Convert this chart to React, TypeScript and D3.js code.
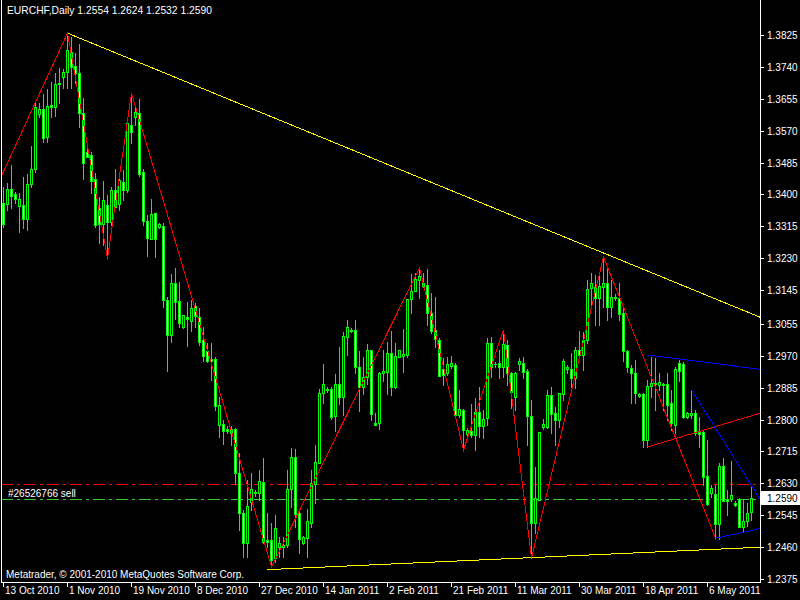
import React from 'react';
import * as d3 from 'd3';

// EURCHF daily bars, 13 Oct 2010 .. 13 May 2011 (one bar per trading session)
const barOpen = [
  1.3377, 1.3374, 1.3414, 1.3401, 1.3369, 1.3372, 1.3334, 1.3428, 1.3468, 1.3614,
  1.3628, 1.3553, 1.3638, 1.3633, 1.3694, 1.3713, 1.3726, 1.3779, 1.3742, 1.3724,
  1.3617, 1.3513, 1.3505, 1.3441, 1.3364, 1.3321, 1.3372, 1.3326, 1.3412, 1.3374,
  1.3433, 1.3412, 1.3585, 1.3606, 1.3617, 1.3460, 1.3329, 1.3281, 1.3350, 1.3313,
  1.3316, 1.3119, 1.3025, 1.3164, 1.3116, 1.3047, 1.3073, 1.3063, 1.3103, 1.3073,
  1.3012, 1.2983, 1.2961, 1.2961, 1.2785, 1.2788, 1.2775, 1.2775, 1.2775, 1.2658,
  1.2551, 1.2471, 1.2580, 1.2607, 1.2604, 1.2634, 1.2479, 1.2479, 1.2431, 1.2460,
  1.2460, 1.2466, 1.2615, 1.2700, 1.2551, 1.2471, 1.2484, 1.2524, 1.2628, 1.2684,
  1.2871, 1.2879, 1.2881, 1.2809, 1.2895, 1.2860, 1.3020, 1.3036, 1.3039, 1.2940,
  1.2887, 1.2913, 1.2985, 1.2791, 1.2791, 1.2924, 1.2927, 1.2977, 1.2887, 1.2967,
  1.2969, 1.2972, 1.3121, 1.3143, 1.3172, 1.3164, 1.3159, 1.3084, 1.3039, 1.3012,
  1.2935, 1.2924, 1.2943, 1.2945, 1.2812, 1.2825, 1.2761, 1.2769, 1.2759, 1.2820,
  1.2783, 1.2804, 1.3004, 1.2948, 1.2951, 1.2940, 1.2999, 1.2924, 1.2860, 1.2948,
  1.2951, 1.2929, 1.2809, 1.2524, 1.2586, 1.2780, 1.2780, 1.2865, 1.2817, 1.2799,
  1.2868, 1.2935, 1.2935, 1.2911, 1.2985, 1.2972, 1.3012, 1.3151, 1.3153, 1.3124,
  1.3153, 1.3164, 1.3100, 1.3124, 1.3124, 1.3084, 1.2983, 1.2937, 1.2924, 1.2863,
  1.2868, 1.2745, 1.2889, 1.2897, 1.2892, 1.2895, 1.2895, 1.2844, 1.2785, 1.2951,
  1.2948, 1.2807, 1.2812, 1.2817, 1.2767, 1.2767, 1.2650, 1.2604, 1.2602, 1.2522,
  1.2676, 1.2588, 1.2588, 1.2578, 1.2588, 1.2514, 1.2530, 1.2554,
];

const barHigh = [
  1.3420, 1.3430, 1.3478, 1.3406, 1.3404, 1.3446, 1.3454, 1.3529, 1.3644, 1.3644,
  1.3668, 1.3681, 1.3700, 1.3724, 1.3737, 1.3734, 1.3830, 1.3819, 1.3777, 1.3801,
  1.3657, 1.3524, 1.3513, 1.3457, 1.3393, 1.3436, 1.3398, 1.3420, 1.3468, 1.3441,
  1.3465, 1.3590, 1.3670, 1.3630, 1.3654, 1.3468, 1.3345, 1.3388, 1.3350, 1.3324,
  1.3324, 1.3127, 1.3188, 1.3204, 1.3167, 1.3079, 1.3113, 1.3119, 1.3111, 1.3097,
  1.3047, 1.3004, 1.3004, 1.2967, 1.2860, 1.2799, 1.2783, 1.2783, 1.2777, 1.2711,
  1.2559, 1.2639, 1.2658, 1.2612, 1.2665, 1.2697, 1.2551, 1.2524, 1.2546, 1.2487,
  1.2487, 1.2665, 1.2724, 1.2721, 1.2559, 1.2490, 1.2562, 1.2665, 1.2732, 1.2881,
  1.2948, 1.2887, 1.2887, 1.2921, 1.2993, 1.3033, 1.3065, 1.3044, 1.3065, 1.2983,
  1.2967, 1.3001, 1.2985, 1.2817, 1.2927, 1.2985, 1.3007, 1.3036, 1.3004, 1.2985,
  1.3041, 1.3121, 1.3188, 1.3191, 1.3204, 1.3191, 1.3201, 1.3137, 1.3127, 1.3017,
  1.2964, 1.2967, 1.2969, 1.2951, 1.2879, 1.2828, 1.2777, 1.2841, 1.2857, 1.2887,
  1.2825, 1.3017, 1.3020, 1.2953, 1.2985, 1.3039, 1.3012, 1.2927, 1.2927, 1.2964,
  1.2967, 1.2935, 1.2852, 1.2673, 1.2767, 1.2801, 1.2879, 1.2887, 1.2833, 1.2871,
  1.2961, 1.2945, 1.2977, 1.2993, 1.3036, 1.3033, 1.3172, 1.3191, 1.3185, 1.3191,
  1.3233, 1.3204, 1.3172, 1.3135, 1.3164, 1.3097, 1.2985, 1.2945, 1.2959, 1.2871,
  1.2871, 1.2905, 1.2967, 1.2964, 1.2924, 1.2897, 1.2924, 1.2879, 1.2940, 1.2959,
  1.2953, 1.2820, 1.2879, 1.2825, 1.2807, 1.2772, 1.2745, 1.2626, 1.2626, 1.2684,
  1.2697, 1.2612, 1.2689, 1.2583, 1.2591, 1.2588, 1.2578, 1.2624,
];

const barLow = [
  1.3313, 1.3358, 1.3364, 1.3377, 1.3300, 1.3310, 1.3305, 1.3420, 1.3460, 1.3606,
  1.3540, 1.3540, 1.3606, 1.3609, 1.3644, 1.3684, 1.3684, 1.3684, 1.3697, 1.3580,
  1.3441, 1.3500, 1.3404, 1.3313, 1.3270, 1.3265, 1.3230, 1.3318, 1.3366, 1.3358,
  1.3385, 1.3406, 1.3537, 1.3585, 1.3449, 1.3318, 1.3236, 1.3281, 1.3233, 1.3310,
  1.3100, 1.2929, 1.3007, 1.3068, 1.3047, 1.3044, 1.2996, 1.3036, 1.3047, 1.2999,
  1.2956, 1.2953, 1.2905, 1.2825, 1.2753, 1.2735, 1.2764, 1.2732, 1.2628, 1.2506,
  1.2434, 1.2434, 1.2559, 1.2596, 1.2586, 1.2471, 1.2460, 1.2407, 1.2420, 1.2434,
  1.2434, 1.2460, 1.2567, 1.2514, 1.2444, 1.2468, 1.2434, 1.2514, 1.2578, 1.2684,
  1.2844, 1.2873, 1.2801, 1.2769, 1.2841, 1.2812, 1.2972, 1.3033, 1.2924, 1.2823,
  1.2868, 1.2895, 1.2799, 1.2785, 1.2775, 1.2903, 1.2868, 1.2865, 1.2884, 1.2967,
  1.2927, 1.2967, 1.3084, 1.3143, 1.3124, 1.3153, 1.3052, 1.3031, 1.2993, 1.2916,
  1.2892, 1.2919, 1.2937, 1.2807, 1.2807, 1.2719, 1.2751, 1.2753, 1.2719, 1.2753,
  1.2751, 1.2785, 1.2913, 1.2940, 1.2911, 1.2913, 1.2892, 1.2831, 1.2825, 1.2932,
  1.2911, 1.2732, 1.2431, 1.2498, 1.2586, 1.2775, 1.2777, 1.2764, 1.2732, 1.2780,
  1.2852, 1.2924, 1.2887, 1.2884, 1.2967, 1.2932, 1.3004, 1.3100, 1.3052, 1.3052,
  1.3100, 1.3065, 1.3073, 1.3119, 1.3065, 1.2956, 1.2927, 1.2844, 1.2844, 1.2860,
  1.2727, 1.2727, 1.2860, 1.2825, 1.2879, 1.2825, 1.2799, 1.2772, 1.2764, 1.2903,
  1.2804, 1.2804, 1.2804, 1.2759, 1.2727, 1.2626, 1.2572, 1.2594, 1.2484, 1.2482,
  1.2583, 1.2546, 1.2583, 1.2570, 1.2514, 1.2500, 1.2516, 1.2532,
];

const barClose = [
  1.3321, 1.3414, 1.3396, 1.3388, 1.3388, 1.3334, 1.3428, 1.3468, 1.3633, 1.3628,
  1.3550, 1.3636, 1.3633, 1.3694, 1.3697, 1.3726, 1.3785, 1.3739, 1.3724, 1.3617,
  1.3484, 1.3500, 1.3436, 1.3318, 1.3321, 1.3385, 1.3326, 1.3412, 1.3366, 1.3438,
  1.3412, 1.3590, 1.3566, 1.3620, 1.3454, 1.3329, 1.3284, 1.3348, 1.3281, 1.3321,
  1.3119, 1.3025, 1.3164, 1.3113, 1.3057, 1.3079, 1.3068, 1.3097, 1.3076, 1.3007,
  1.2969, 1.2956, 1.2956, 1.2836, 1.2839, 1.2769, 1.2769, 1.2764, 1.2658, 1.2551,
  1.2471, 1.2570, 1.2615, 1.2604, 1.2636, 1.2474, 1.2474, 1.2426, 1.2511, 1.2471,
  1.2466, 1.2615, 1.2700, 1.2548, 1.2482, 1.2487, 1.2530, 1.2631, 1.2687, 1.2871,
  1.2895, 1.2881, 1.2807, 1.2895, 1.2860, 1.3023, 1.3047, 1.3039, 1.2940, 1.2887,
  1.2913, 1.2985, 1.2815, 1.2785, 1.2924, 1.2929, 1.2977, 1.2887, 1.2969, 1.2985,
  1.2975, 1.3121, 1.3143, 1.3175, 1.3183, 1.3156, 1.3084, 1.3036, 1.3015, 1.2916,
  1.2919, 1.2948, 1.2951, 1.2812, 1.2828, 1.2772, 1.2772, 1.2759, 1.2820, 1.2783,
  1.2801, 1.3004, 1.2940, 1.2948, 1.2940, 1.3001, 1.2924, 1.2873, 1.2924, 1.2956,
  1.2927, 1.2809, 1.2524, 1.2591, 1.2767, 1.2788, 1.2865, 1.2815, 1.2799, 1.2871,
  1.2956, 1.2940, 1.2911, 1.2985, 1.2972, 1.3012, 1.3148, 1.3164, 1.3124, 1.3156,
  1.3164, 1.3100, 1.3127, 1.3127, 1.3081, 1.2983, 1.2940, 1.2924, 1.2871, 1.2868,
  1.2745, 1.2889, 1.2897, 1.2895, 1.2900, 1.2892, 1.2839, 1.2791, 1.2935, 1.2929,
  1.2807, 1.2817, 1.2817, 1.2764, 1.2761, 1.2647, 1.2575, 1.2618, 1.2522, 1.2676,
  1.2583, 1.2583, 1.2599, 1.2572, 1.2514, 1.2530, 1.2551, 1.2590,
];

// time axis: one label every 16 bars
const dateLabels = [
  '13 Oct 2010', '1 Nov 2010', '19 Nov 2010', '8 Dec 2010', '27 Dec 2010', '14 Jan 2011',
  '2 Feb 2011', '21 Feb 2011', '11 Mar 2011', '30 Mar 2011', '18 Apr 2011', '6 May 2011',
];
const dateLabelBars = [0, 16, 32, 48, 64, 80, 96, 112, 128, 144, 160, 176];

// price axis
const priceTicks = [
  '1.3825', '1.3740', '1.3655', '1.3570', '1.3485', '1.3400', '1.3315', '1.3230', '1.3145',
  '1.3055', '1.2970', '1.2885', '1.2800', '1.2715', '1.2630', '1.2545', '1.2460', '1.2375',
];

// ZigZag pivots (bar index, price)
const zigzagBars = [-1, 16, 26, 32, 67, 104, 115, 125, 132, 150, 178];
const zigzagPrices = [1.3438, 1.383, 1.323, 1.367, 1.2407, 1.3204, 1.2719, 1.3039, 1.2431, 1.3233, 1.2484];

// hand-drawn trend lines: two anchors each, extended to the right edge
type Anchor = [number, number];
const resistanceLine: Anchor[] = [[16, 1.383], [150, 1.3244]];
const supportLine: Anchor[] = [[66, 1.24], [132, 1.2432]];
const channelRed: Anchor[] = [[161, 1.2727], [187, 1.281]];
const channelTop: Anchor[] = [[161, 1.2972], [187, 1.2937]];
const wedgeTop: Anchor[] = [[172, 1.2879], [187, 1.2624]];
const wedgeBottom: Anchor[] = [[178, 1.2484], [185, 1.25]];

// open order
const orderTicket = '#26526766 sell';
const orderOpenPrice = 1.2587;
const orderStopPrice = 1.2628;
const bidPrice = 1.259;

const title = 'EURCHF,Daily  1.2554 1.2624 1.2532 1.2590';
const copyright = 'Metatrader, \u00A9 2001-2010 MetaQuotes Software Corp.';

const W = 800;
const H = 600;
const plotLeft = 1;
const plotRight = 760;
const plotBottom = 582;
const FONT = 'Liberation Sans, Arial, sans-serif';
const LIME = '#00ff00';

export default function App() {
  const x = d3.scaleLinear().domain([0, 187]).range([3.5, 751.5]);
  const y = d3.scaleLinear().domain([1.2375, 1.3825]).range([579, 35]);
  const edgeBar = x.invert(plotRight);

  const line = d3
    .line<Anchor>()
    .x((d) => x(d[0]))
    .y((d) => y(d[1]));

  const extend = (a: Anchor[]): Anchor[] => {
    const [[b1, p1], [b2, p2]] = a;
    const slope = (p2 - p1) / (b2 - b1);
    return [[b1, p1], [edgeBar, p1 + slope * (edgeBar - b1)]];
  };

  const zigzag: Anchor[] = zigzagBars.map((b, i) => [b, zigzagPrices[i]]);

  const candles = barOpen.map((o, i) => {
    const c = barClose[i];
    const cx = Math.round(x(i) - 0.5);
    const yH = Math.round(y(barHigh[i]));
    const yL = Math.round(y(barLow[i]));
    const yTop = Math.round(y(Math.max(o, c)));
    const yBot = Math.round(y(Math.min(o, c)));
    const bull = c >= o;
    return (
      <g key={i}>
        <rect x={cx} y={yH} width={1} height={yL - yH + 1} fill={LIME} />
        <rect x={cx - 1} y={yTop} width={3} height={yBot - yTop + 1} fill={LIME} />
        {yBot - yTop >= 2 && (
          <rect x={cx} y={yTop + 1} width={1} height={yBot - yTop - 1} fill={bull ? '#000' : '#fff'} />
        )}
      </g>
    );
  });

  return (
    <svg
      width={W}
      height={H}
      style={{ position: 'absolute', left: 0, top: 0, display: 'block', background: '#000' }}
      shapeRendering="crispEdges"
    >
      <rect x={0} y={0} width={W} height={H} fill="#000" />
      <defs>
        <clipPath id="plot">
          <rect x={plotLeft + 1} y={0} width={plotRight - plotLeft - 1} height={plotBottom} />
        </clipPath>
      </defs>

      {/* order lines */}
      <g clipPath="url(#plot)">
        <line x1={plotLeft} x2={plotRight} y1={Math.round(y(orderStopPrice)) + 0.5} y2={Math.round(y(orderStopPrice)) + 0.5}
          stroke="#ff0000" strokeDasharray="12,4,3,4" />
        <line x1={plotLeft} x2={plotRight} y1={Math.round(y(orderOpenPrice)) + 0.5} y2={Math.round(y(orderOpenPrice)) + 0.5}
          stroke="#33cc33" strokeDasharray="12,4,3,4" />
      </g>

      <g clipPath="url(#plot)">{candles}</g>

      <g clipPath="url(#plot)" fill="none" strokeWidth={1}>
        <path d={line(extend(resistanceLine)) ?? ''} stroke="#ffff00" />
        <path d={line(extend(supportLine)) ?? ''} stroke="#ffff00" />
        <path d={line(extend(channelRed)) ?? ''} stroke="#ff0000" />
        <path d={line(extend(channelTop)) ?? ''} stroke="#0000ff" />
        <path d={line(extend(wedgeTop)) ?? ''} stroke="#0000ff" />
        <path d={line(extend(wedgeBottom)) ?? ''} stroke="#0000ff" />
        <path d={line(zigzag) ?? ''} stroke="#ff0000" />
      </g>

      {/* frame */}
      <g stroke="#fff" strokeWidth={1}>
        <line x1={plotLeft + 0.5} x2={plotLeft + 0.5} y1={0} y2={plotBottom + 0.5} />
        <line x1={plotRight + 0.5} x2={plotRight + 0.5} y1={0} y2={plotBottom + 0.5} />
        <line x1={plotLeft} x2={plotRight + 1} y1={plotBottom + 0.5} y2={plotBottom + 0.5} />
      </g>

      {/* price axis */}
      <g fontFamily={FONT} fontSize={10} fill="#fff">
        {priceTicks.map((t) => {
          const ty = Math.round(y(+t));
          return (
            <g key={t}>
              <line x1={plotRight + 1} x2={plotRight + 4} y1={ty + 0.5} y2={ty + 0.5} stroke="#fff" />
              <text x={767} y={ty + 4}>{t}</text>
            </g>
          );
        })}
        <rect x={761} y={Math.round(y(bidPrice)) - 7} width={39} height={14} fill="#fff" />
        <text x={767} y={Math.round(y(bidPrice)) + 4} fill="#000">{bidPrice.toFixed(4)}</text>
      </g>

      {/* time axis */}
      <g fontFamily={FONT} fontSize={10} fill="#fff">
        {dateLabels.map((d, i) => {
          const tx = Math.round(x(dateLabelBars[i]) - 0.5);
          return (
            <g key={d}>
              <line x1={tx + 0.5} x2={tx + 0.5} y1={plotBottom + 1} y2={plotBottom + 5} stroke="#fff" />
              <text x={tx + 2} y={594}>{d}</text>
            </g>
          );
        })}
      </g>

      <g fontFamily={FONT} fontSize={10} fill="#fff">
        <text x={7} y={14} fontSize={10.3}>{title}</text>
        <text x={8} y={497}>{orderTicket}</text>
        <text x={6} y={578}>{copyright}</text>
      </g>
    </svg>
  );
}
